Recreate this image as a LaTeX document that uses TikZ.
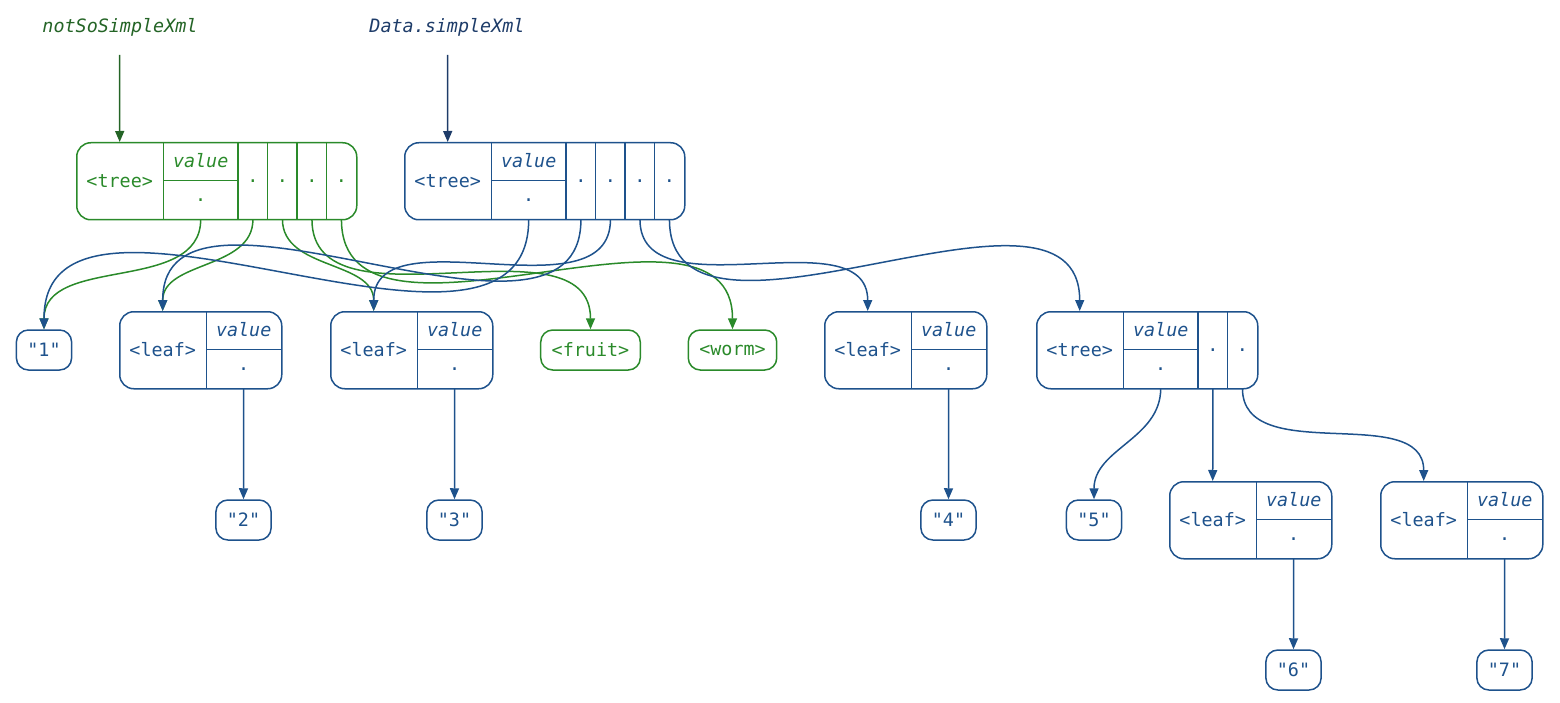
\documentclass[tikz,border=0pt]{standalone}
\usepackage{fontspec}
\usetikzlibrary{arrows.meta,calc}
\newfontfamily\mono{DejaVu Sans Mono}
\definecolor{gclr}{RGB}{42,138,42}
\definecolor{glab}{RGB}{36,100,38}
\definecolor{bclr}{RGB}{30,82,140}
\definecolor{blab}{RGB}{30,60,105}
\tikzset{
  lw/.style={line width=1.5pt},
  recbox/.style={draw, lw, rounded corners=14pt, minimum height=77pt, inner sep=0pt},
  txt/.style={inner sep=0pt, font=\mono\fontsize{18.4}{22}\selectfont},
  pill/.style={draw, lw, rounded corners=12pt, minimum height=40pt, minimum width=54pt, inner ysep=0pt, inner xsep=11pt, font=\mono\fontsize{18.4}{22}\selectfont},
  G/.style={color=gclr},
  B/.style={color=bclr},
  lnk/.style={lw, -{Triangle[length=11pt,width=9pt]}},
  sbend/.style={out=-90, in=90},
}
\newcommand{\recd}[6]{%
  \pgfmathsetmacro\rw{162+29.5*#5}
  \node[recbox,#6,minimum width=\rw pt,anchor=north west] (#1) at (#2,-#3) {};
  \node[txt,#6,minimum width=87pt,minimum height=77pt,anchor=north west] (#1-tag) at (#2,-#3) {#4};
  \node[txt,#6,minimum width=75pt,minimum height=38.5pt,anchor=north west] (#1-vt) at (#2+87,-#3) {\raisebox{1.5pt}{\itshape value}};
  \node[txt,#6,minimum width=75pt,minimum height=38.5pt,anchor=north west] (#1-vb) at (#2+87,-#3-38.5) {.};
  \draw[#6,lw] (#1-tag.north east) -- (#1-tag.south east);
  \draw[#6,lw] (#1-vb.north west) -- (#1-vb.north east);
  \ifnum#5>0
  \foreach \i in {1,...,#5}{
    \node[txt,#6,minimum width=29.5pt,minimum height=77pt,anchor=north west] (#1-c\i) at (#2+162+29.5*\i-29.5,-#3) {.};
    \draw[#6,lw] (#1-c\i.north west) -- (#1-c\i.south west);
  }
  \fi
}
\begin{document}
\begin{tikzpicture}[x=1pt,y=1pt]
\useasboundingbox (0,0) rectangle (1560,-703);
% labels
\node[txt,color=glab] (n1) at (120,-27) {\itshape notSoSimpleXml};
\node[txt,color=blab] (n2) at (447,-27) {\itshape Data.simpleXml};
\coordinate (n1e) at (119.5,-55);
\coordinate (n2e) at (447.5,-55);
% records
\recd{g}{76}{142}{<tree>}{4}{G}
\recd{b}{404}{142}{<tree>}{4}{B}
\recd{l1}{119}{311}{<leaf>}{0}{B}
\recd{l2}{330}{311}{<leaf>}{0}{B}
\recd{l4}{824}{311}{<leaf>}{0}{B}
\recd{t2}{1036}{311}{<tree>}{2}{B}
\recd{l6}{1169}{481}{<leaf>}{0}{B}
\recd{l7}{1380}{481}{<leaf>}{0}{B}
% pills
\node[pill,B] (one) at (44,-350) {"1"};
\node[pill,G] (fruit) at (590.5,-350) {<fruit>};
\node[pill,G] (worm) at (732.5,-350) {<worm>};
\node[pill,B] (two) at (243.5,-520) {"2"};
\node[pill,B] (three) at (454.5,-520) {"3"};
\node[pill,B] (four) at (948.5,-520) {"4"};
\node[pill,B] (five) at (1094,-520) {"5"};
\node[pill,B] (six) at (1293.5,-670) {"6"};
\node[pill,B] (seven) at (1504.5,-670) {"7"};
% label arrows
\draw[lnk,color=glab] (n1e) -- (g-tag.north);
\draw[lnk,color=blab] (n2e) -- (b-tag.north);
% green edges
\draw[lnk,G] (g-vb.south) to[sbend] (one.north);
\draw[lnk,G] (g-c1.south) to[sbend] (l1-tag.north);
\draw[lnk,G] (g-c2.south) to[sbend] (l2-tag.north);
\draw[lnk,G] (g-c3.south) to[sbend] (fruit.north);
\draw[lnk,G] (g-c4.south) to[sbend] (worm.north);
% blue edges
\draw[lnk,B] (b-vb.south) to[sbend] (one.north);
\draw[lnk,B] (b-c1.south) to[sbend] (l1-tag.north);
\draw[lnk,B] (b-c2.south) to[sbend] (l2-tag.north);
\draw[lnk,B] (b-c3.south) to[sbend] (l4-tag.north);
\draw[lnk,B] (b-c4.south) to[sbend] (t2-tag.north);
\draw[lnk,B] (l1-vb.south) -- (two.north);
\draw[lnk,B] (l2-vb.south) -- (three.north);
\draw[lnk,B] (l4-vb.south) -- (four.north);
\draw[lnk,B] (t2-vb.south) to[sbend] (five.north);
\draw[lnk,B] (t2-c1.south) -- (l6-tag.north);
\draw[lnk,B] (t2-c2.south) to[sbend] (l7-tag.north);
\draw[lnk,B] (l6-vb.south) -- (six.north);
\draw[lnk,B] (l7-vb.south) -- (seven.north);
\end{tikzpicture}
\end{document}
